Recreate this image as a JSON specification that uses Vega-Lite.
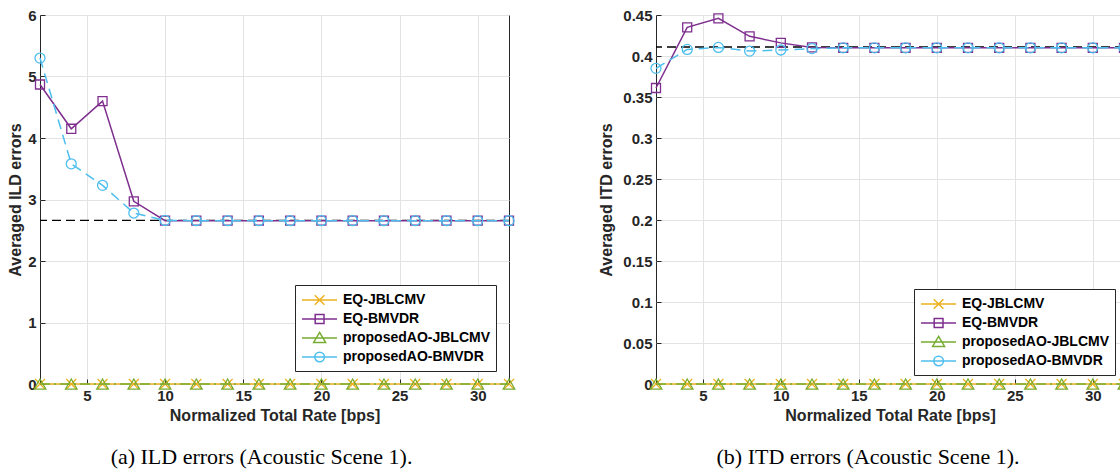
{
  "$schema": "https://vega.github.io/schema/vega-lite/v6.json",
  "padding": {"left": 7, "top": 7, "right": 0, "bottom": 0},
  "background": "white",
  "datasets": {
    "main": [
      {"x":2,"s":"EQ-JBLCMV","ild":0,"itd":0},{"x":4,"s":"EQ-JBLCMV","ild":0,"itd":0},{"x":6,"s":"EQ-JBLCMV","ild":0,"itd":0},{"x":8,"s":"EQ-JBLCMV","ild":0,"itd":0},
      {"x":10,"s":"EQ-JBLCMV","ild":0,"itd":0},{"x":12,"s":"EQ-JBLCMV","ild":0,"itd":0},{"x":14,"s":"EQ-JBLCMV","ild":0,"itd":0},{"x":16,"s":"EQ-JBLCMV","ild":0,"itd":0},
      {"x":18,"s":"EQ-JBLCMV","ild":0,"itd":0},{"x":20,"s":"EQ-JBLCMV","ild":0,"itd":0},{"x":22,"s":"EQ-JBLCMV","ild":0,"itd":0},{"x":24,"s":"EQ-JBLCMV","ild":0,"itd":0},
      {"x":26,"s":"EQ-JBLCMV","ild":0,"itd":0},{"x":28,"s":"EQ-JBLCMV","ild":0,"itd":0},{"x":30,"s":"EQ-JBLCMV","ild":0,"itd":0},{"x":32,"s":"EQ-JBLCMV","ild":0,"itd":0},
      {"x":2,"s":"EQ-BMVDR","ild":4.87,"itd":0.361},{"x":4,"s":"EQ-BMVDR","ild":4.15,"itd":0.435},{"x":6,"s":"EQ-BMVDR","ild":4.6,"itd":0.446},{"x":8,"s":"EQ-BMVDR","ild":2.97,"itd":0.424},
      {"x":10,"s":"EQ-BMVDR","ild":2.655,"itd":0.416},{"x":12,"s":"EQ-BMVDR","ild":2.655,"itd":0.4105},{"x":14,"s":"EQ-BMVDR","ild":2.655,"itd":0.41},{"x":16,"s":"EQ-BMVDR","ild":2.655,"itd":0.41},
      {"x":18,"s":"EQ-BMVDR","ild":2.655,"itd":0.41},{"x":20,"s":"EQ-BMVDR","ild":2.655,"itd":0.41},{"x":22,"s":"EQ-BMVDR","ild":2.655,"itd":0.41},{"x":24,"s":"EQ-BMVDR","ild":2.655,"itd":0.41},
      {"x":26,"s":"EQ-BMVDR","ild":2.655,"itd":0.41},{"x":28,"s":"EQ-BMVDR","ild":2.655,"itd":0.41},{"x":30,"s":"EQ-BMVDR","ild":2.655,"itd":0.41},{"x":32,"s":"EQ-BMVDR","ild":2.655,"itd":0.41},
      {"x":2,"s":"proposedAO-JBLCMV","ild":0,"itd":0},{"x":4,"s":"proposedAO-JBLCMV","ild":0,"itd":0},{"x":6,"s":"proposedAO-JBLCMV","ild":0,"itd":0},{"x":8,"s":"proposedAO-JBLCMV","ild":0,"itd":0},
      {"x":10,"s":"proposedAO-JBLCMV","ild":0,"itd":0},{"x":12,"s":"proposedAO-JBLCMV","ild":0,"itd":0},{"x":14,"s":"proposedAO-JBLCMV","ild":0,"itd":0},{"x":16,"s":"proposedAO-JBLCMV","ild":0,"itd":0},
      {"x":18,"s":"proposedAO-JBLCMV","ild":0,"itd":0},{"x":20,"s":"proposedAO-JBLCMV","ild":0,"itd":0},{"x":22,"s":"proposedAO-JBLCMV","ild":0,"itd":0},{"x":24,"s":"proposedAO-JBLCMV","ild":0,"itd":0},
      {"x":26,"s":"proposedAO-JBLCMV","ild":0,"itd":0},{"x":28,"s":"proposedAO-JBLCMV","ild":0,"itd":0},{"x":30,"s":"proposedAO-JBLCMV","ild":0,"itd":0},{"x":32,"s":"proposedAO-JBLCMV","ild":0,"itd":0},
      {"x":2,"s":"proposedAO-BMVDR","ild":5.3,"itd":0.385},{"x":4,"s":"proposedAO-BMVDR","ild":3.58,"itd":0.408},{"x":6,"s":"proposedAO-BMVDR","ild":3.23,"itd":0.4105},{"x":8,"s":"proposedAO-BMVDR","ild":2.78,"itd":0.406},
      {"x":10,"s":"proposedAO-BMVDR","ild":2.66,"itd":0.4073},{"x":12,"s":"proposedAO-BMVDR","ild":2.655,"itd":0.409},{"x":14,"s":"proposedAO-BMVDR","ild":2.655,"itd":0.41},{"x":16,"s":"proposedAO-BMVDR","ild":2.655,"itd":0.41},
      {"x":18,"s":"proposedAO-BMVDR","ild":2.655,"itd":0.41},{"x":20,"s":"proposedAO-BMVDR","ild":2.655,"itd":0.41},{"x":22,"s":"proposedAO-BMVDR","ild":2.655,"itd":0.41},{"x":24,"s":"proposedAO-BMVDR","ild":2.655,"itd":0.41},
      {"x":26,"s":"proposedAO-BMVDR","ild":2.655,"itd":0.41},{"x":28,"s":"proposedAO-BMVDR","ild":2.655,"itd":0.41},{"x":30,"s":"proposedAO-BMVDR","ild":2.655,"itd":0.41},{"x":32,"s":"proposedAO-BMVDR","ild":2.655,"itd":0.41}
    ],
    "ref": [{"ild": 2.66, "itd": 0.411}]
  },
  "spacing": 79,
  "hconcat": [
    {
      "width": 469,
      "height": 369,
      "title": {"text": "(a) ILD errors (Acoustic Scene 1).", "orient": "bottom", "font": "Liberation Serif", "fontSize": 22, "fontWeight": "normal", "color": "black", "offset": 24, "anchor": "middle", "dx": -13},
      "data": {"name": "main"},
      "encoding": {
        "x": {"field": "x", "type": "quantitative", "scale": {"domain": [2, 32], "nice": false, "zero": false}, "axis": {"values": [5, 10, 15, 20, 25, 30], "title": "Normalized Total Rate [bps]"}},
        "y": {"field": "ild", "type": "quantitative", "scale": {"domain": [0, 6], "nice": false}, "axis": {"values": [0, 1, 2, 3, 4, 5, 6], "format": "d", "title": "Averaged ILD errors"}},
        "color": {"field": "s", "type": "nominal", "scale": {"domain": ["EQ-JBLCMV", "EQ-BMVDR", "proposedAO-JBLCMV", "proposedAO-BMVDR"], "range": ["#EDB120", "#7E2F8E", "#77AC30", "#4DBEEE"]},
          "legend": {"title": null, "orient": "bottom-right", "offset": 13}}
      },
      "layer": [
        {
          "mark": {"type": "point", "opacity": 0, "filled": false, "strokeWidth": 1.5},
          "encoding": {
            "shape": {"field": "s", "type": "nominal", "scale": {"domain": ["EQ-JBLCMV", "EQ-BMVDR", "proposedAO-JBLCMV", "proposedAO-BMVDR"], "range": ["M-1,0H3.375M0.6,-0.6L1.8,0.6M0.6,0.6L1.8,-0.6", "M-1,0H3.375M0.65,-0.55H1.75V0.55H0.65Z", "M-1,0H3.375M1.2,-0.7L1.95,0.55H0.45Z", "M-1,0H3.375M1.8,0A0.6,0.6 0 1 1 0.6,0A0.6,0.6 0 1 1 1.8,0"]}, "legend": null}
          }
        },
        {
          "data": {"name": "ref"},
          "mark": {"type": "rule", "color": "black", "strokeDash": [9, 5], "strokeWidth": 1.3},
          "encoding": {"x": null, "color": null, "y": {"field": "ild", "type": "quantitative"}}
        },
        {"transform": [{"filter": "datum.s === 'EQ-JBLCMV' || datum.s === 'EQ-BMVDR'"}], "mark": {"type": "line", "strokeWidth": 1.5}},
        {"transform": [{"filter": "datum.s === 'EQ-JBLCMV'"}], "mark": {"type": "point", "shape": "M-1,-1L1,1M-1,1L1,-1", "size": 100, "strokeWidth": 1.3, "opacity": 1, "filled": false}},
        {"transform": [{"filter": "datum.s === 'EQ-BMVDR'"}], "mark": {"type": "point", "shape": "square", "size": 81, "strokeWidth": 1.3, "opacity": 1, "filled": false}},
        {"transform": [{"filter": "datum.s === 'proposedAO-JBLCMV'"}], "mark": {"type": "line", "strokeWidth": 1.5, "strokeDash": [10, 4, 2, 4]}},
        {"transform": [{"filter": "datum.s === 'proposedAO-JBLCMV'"}], "mark": {"type": "point", "shape": "triangle-up", "size": 135, "strokeWidth": 1.3, "opacity": 1, "filled": false}},
        {"transform": [{"filter": "datum.s === 'proposedAO-BMVDR'"}], "mark": {"type": "line", "strokeWidth": 1.5, "strokeDash": [10, 6]}},
        {"transform": [{"filter": "datum.s === 'proposedAO-BMVDR'"}], "mark": {"type": "point", "shape": "circle", "size": 100, "strokeWidth": 1.3, "opacity": 1, "filled": false}}
      ]
    },
    {
      "width": 468,
      "height": 369,
      "title": {"text": "(b) ITD errors (Acoustic Scene 1).", "orient": "bottom", "font": "Liberation Serif", "fontSize": 22, "fontWeight": "normal", "color": "black", "offset": 24, "anchor": "middle", "dx": -22},
      "data": {"name": "main"},
      "encoding": {
        "x": {"field": "x", "type": "quantitative", "scale": {"domain": [2, 32], "nice": false, "zero": false}, "axis": {"values": [5, 10, 15, 20, 25, 30], "title": "Normalized Total Rate [bps]"}},
        "y": {"field": "itd", "type": "quantitative", "scale": {"domain": [0, 0.45], "nice": false}, "axis": {"values": [0, 0.05, 0.1, 0.15, 0.2, 0.25, 0.3, 0.35, 0.4, 0.45], "format": "~g", "title": "Averaged ITD errors", "titlePadding": 8}},
        "color": {"field": "s", "type": "nominal", "scale": {"domain": ["EQ-JBLCMV", "EQ-BMVDR", "proposedAO-JBLCMV", "proposedAO-BMVDR"], "range": ["#EDB120", "#7E2F8E", "#77AC30", "#4DBEEE"]},
          "legend": {"title": null, "orient": "bottom-right", "offset": 9}}
      },
      "layer": [
        {
          "mark": {"type": "point", "opacity": 0, "filled": false, "strokeWidth": 1.5},
          "encoding": {
            "shape": {"field": "s", "type": "nominal", "scale": {"domain": ["EQ-JBLCMV", "EQ-BMVDR", "proposedAO-JBLCMV", "proposedAO-BMVDR"], "range": ["M-1,0H3.375M0.6,-0.6L1.8,0.6M0.6,0.6L1.8,-0.6", "M-1,0H3.375M0.65,-0.55H1.75V0.55H0.65Z", "M-1,0H3.375M1.2,-0.7L1.95,0.55H0.45Z", "M-1,0H3.375M1.8,0A0.6,0.6 0 1 1 0.6,0A0.6,0.6 0 1 1 1.8,0"]}, "legend": null}
          }
        },
        {
          "data": {"name": "ref"},
          "mark": {"type": "rule", "color": "black", "strokeDash": [9, 5], "strokeWidth": 1.3},
          "encoding": {"x": null, "color": null, "y": {"field": "itd", "type": "quantitative"}}
        },
        {"transform": [{"filter": "datum.s === 'EQ-JBLCMV' || datum.s === 'EQ-BMVDR'"}], "mark": {"type": "line", "strokeWidth": 1.5}},
        {"transform": [{"filter": "datum.s === 'EQ-JBLCMV'"}], "mark": {"type": "point", "shape": "M-1,-1L1,1M-1,1L1,-1", "size": 100, "strokeWidth": 1.3, "opacity": 1, "filled": false}},
        {"transform": [{"filter": "datum.s === 'EQ-BMVDR'"}], "mark": {"type": "point", "shape": "square", "size": 81, "strokeWidth": 1.3, "opacity": 1, "filled": false}},
        {"transform": [{"filter": "datum.s === 'proposedAO-JBLCMV'"}], "mark": {"type": "line", "strokeWidth": 1.5, "strokeDash": [10, 4, 2, 4]}},
        {"transform": [{"filter": "datum.s === 'proposedAO-JBLCMV'"}], "mark": {"type": "point", "shape": "triangle-up", "size": 135, "strokeWidth": 1.3, "opacity": 1, "filled": false}},
        {"transform": [{"filter": "datum.s === 'proposedAO-BMVDR'"}], "mark": {"type": "line", "strokeWidth": 1.5, "strokeDash": [10, 6]}},
        {"transform": [{"filter": "datum.s === 'proposedAO-BMVDR'"}], "mark": {"type": "point", "shape": "circle", "size": 100, "strokeWidth": 1.3, "opacity": 1, "filled": false}}
      ]
    }
  ],
  "resolve": {"scale": {"color": "independent", "shape": "independent", "x": "independent", "y": "independent"}, "legend": {"color": "independent"}},
  "config": {
    "font": "Liberation Sans",
    "view": {"stroke": "#262626", "strokeWidth": 1},
    "axis": {
      "labelFont": "Liberation Sans", "labelFontWeight": "bold", "labelFontSize": 15, "labelColor": "#262626",
      "titleFont": "Liberation Sans", "titleFontWeight": "bold", "titleFontSize": 16, "titleColor": "#262626",
      "gridColor": "#e3e3e3", "gridWidth": 1, "domain": false,
      "tickColor": "#262626", "tickSize": -5, "tickWidth": 1, "labelPadding": 9, "titlePadding": 4
    },
    "legend": {
      "labelFont": "Liberation Sans", "labelFontWeight": "bold", "labelFontSize": 14, "labelColor": "black",
      "strokeColor": "#262626", "fillColor": "white", "padding": 6, "rowPadding": 2,
      "symbolSize": 256, "symbolStrokeWidth": 1.5, "symbolOpacity": 1, "symbolFillColor": "transparent", "labelOffset": 24, "cornerRadius": 0
    }
  }
}
